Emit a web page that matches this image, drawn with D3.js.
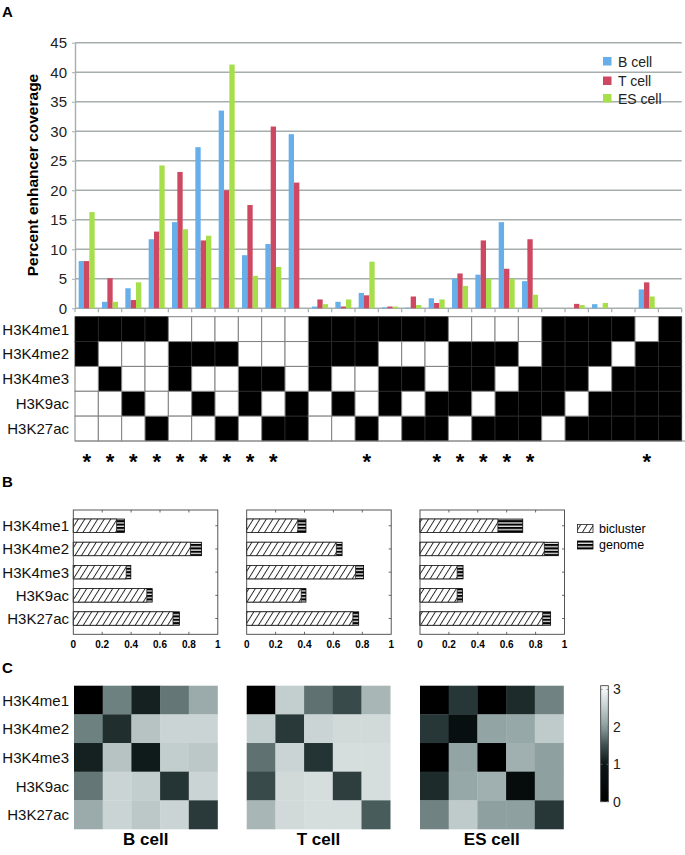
<!DOCTYPE html>
<html>
<head>
<meta charset="utf-8">
<script src="https://cdn.jsdelivr.net/npm/d3@7"></script>
<style>
  body { margin: 0; background: #fff; }
  svg { display: block; font-family: "Liberation Sans", Arial, Helvetica, sans-serif; }
</style>
</head>
<body>
<div id="fig"></div>
<script>
// ---------- data ----------
const marks = ["H3K4me1", "H3K4me2", "H3K4me3", "H3K9ac", "H3K27ac"];
const cellTypes = ["B cell", "T cell", "ES cell"];

// mark combinations (1 = mark present), one per column of panel A
const combos = ["11000","10100","10010","10001","01100","01010","01001","00110","00101","00011",
                "11100","11010","11001","10110","10101","10011","01110","01101","01011","00111",
                "11110","11101","11011","10111","01111","11111"];
const starred = [1,1,1,1,1,1,1,1,1,0, 0,0,1,0,0,1,1,1,1,1, 0,0,0,0,1,0];

const coverageB  = [8.0,1.1,3.4,11.7,14.6,27.3,33.5,9.0,10.9,29.5, 0.3,1.1,2.6,0.15,0.1,1.7,5.0,5.7,14.6,4.6, 0,0,0.7,0,3.2,0];
const coverageT  = [8.0,5.1,1.4,13.0,23.1,11.5,20.0,17.5,30.8,21.3, 1.5,0.3,2.2,0.3,2.0,0.9,5.9,11.5,6.7,11.7, 0,0.75,0,0,4.4,0];
const coverageES = [16.3,1.1,4.4,24.2,13.4,12.3,41.3,5.5,7.0,0, 0.7,1.5,7.9,0.3,0.55,1.5,3.8,5.0,5.0,2.3, 0,0.55,0.9,0,2.0,0];
const yTicks = [0,5,10,15,20,25,30,35,40,45];

// panel B: fraction covered, bicluster vs genome
const biclusterB  = [0.30, 0.81, 0.366, 0.509, 0.69];
const genomeB     = [0.354, 0.887, 0.398, 0.546, 0.734];
const biclusterT  = [0.354, 0.62, 0.754, 0.377, 0.735];
const genomeT     = [0.41, 0.66, 0.809, 0.41, 0.775];
const biclusterES = [0.539, 0.86, 0.257, 0.257, 0.849];
const genomeES    = [0.711, 0.957, 0.298, 0.294, 0.904];
const bTicks = [0, 0.2, 0.4, 0.6, 0.8, 1];

// panel C: pairwise matrices
const heatB = [
  [0, 1.82, 1.1, 1.75, 2.15],
  [1.82, 1.21, 2.40, 2.59, 2.59],
  [1.1, 2.40, 1.04, 2.5, 2.45],
  [1.75, 2.59, 2.5, 1.26, 2.59],
  [2.15, 2.59, 2.45, 2.59, 1.31]];
const heatT = [
  [0, 2.51, 1.72, 1.45, 2.27],
  [2.51, 1.30, 2.59, 2.65, 2.65],
  [1.72, 2.59, 1.25, 2.69, 2.69],
  [1.45, 2.65, 2.69, 1.35, 2.69],
  [2.27, 2.65, 2.69, 2.69, 1.58]];
const heatES = [
  [0, 1.28, 0, 1.19, 1.83],
  [1.28, 0.7, 2.08, 2.12, 2.47],
  [0, 2.08, 0, 2.2, 2.04],
  [1.19, 2.12, 2.2, 0.5, 2.04],
  [1.83, 2.47, 2.04, 2.04, 1.28]];
const cbTicks = [0, 1, 2, 3];

// ---------- svg ----------
const svg = d3.select("#fig").append("svg")
  .attr("width", 685).attr("height", 855);
const defs = svg.append("defs");

function panelLabel(t, x, y) {
  svg.append("text").attr("x", x).attr("y", y)
    .attr("font-size", 15).attr("font-weight", "bold").text(t);
}

// ===== panel A =====
panelLabel("A", 2, 17);

const x = d3.scaleBand().domain(combos).range([75, 681.7]);
const x1 = d3.scaleBand().domain(cellTypes).range([0, x.bandwidth()]).paddingOuter(0.69);
const y = d3.scaleLinear().domain([0, 45]).range([308.3, 42.7]);
const colors = { "B cell": "#66afea", "T cell": "#cf4862", "ES cell": "#a7df4a" };
const series = { "B cell": coverageB, "T cell": coverageT, "ES cell": coverageES };

const gA = svg.append("g");

// grid lines
gA.selectAll(".grid").data(yTicks.filter(d => d > 0)).enter().append("line")
  .attr("x1", 75).attr("x2", 681.7)
  .attr("y1", d => y(d)).attr("y2", d => y(d))
  .attr("stroke", "#a6aeae").attr("stroke-width", 1.4);

// y axis
const yAxis = gA.append("g").attr("transform", "translate(75,0)")
  .call(d3.axisLeft(y).tickValues(yTicks).tickSizeInner(3).tickSizeOuter(0).tickPadding(5));
yAxis.select(".domain").attr("stroke", "#a6aeae").attr("stroke-width", 1.4);
yAxis.selectAll(".tick line").attr("stroke", "#a6aeae");
yAxis.selectAll("text").attr("font-size", 15).attr("fill", "#222")
  .attr("font-family", "Liberation Sans, Arial, sans-serif");

// x baseline + ticks at category edges
gA.append("line").attr("x1", 75).attr("x2", 681.7)
  .attr("y1", y(0)).attr("y2", y(0))
  .attr("stroke", "#a6aeae").attr("stroke-width", 1.4);
const edges = combos.map(c => x(c)).concat([x.range()[1]]);
gA.selectAll(".xt").data(edges).enter().append("line")
  .attr("x1", d => d).attr("x2", d => d)
  .attr("y1", y(0)).attr("y2", y(0) + 4)
  .attr("stroke", "#a6aeae").attr("stroke-width", 1.2);

// bars
cellTypes.forEach(ct => {
  gA.selectAll(".bar-" + ct.replace(" ", ""))
    .data(series[ct].map((v, i) => ({ c: combos[i], v: v })))
    .enter().append("rect")
    .attr("x", d => x(d.c) + x1(ct))
    .attr("y", d => y(d.v))
    .attr("width", x1.bandwidth())
    .attr("height", d => y(0) - y(d.v))
    .attr("fill", colors[ct]);
});

// y title
gA.append("text")
  .attr("transform", "translate(38,175) rotate(-90)")
  .attr("text-anchor", "middle")
  .attr("font-size", 15.5).attr("font-weight", "bold")
  .text("Percent enhancer coverage");

// legend
const leg = gA.append("g");
cellTypes.forEach((ct, i) => {
  const ly = [57, 76.5, 94][i];
  leg.append("rect").attr("x", 603).attr("y", ly).attr("width", 8.5).attr("height", 8.5)
    .attr("fill", colors[ct]);
  leg.append("text").attr("x", 618).attr("y", ly + 9.5)
    .attr("font-size", 14).attr("fill", "#222").text(ct);
});

// presence matrix
const my = d3.scaleBand().domain(marks).range([316.7, 441]);
const cells = [];
combos.forEach(c => c.split("").forEach((b, j) => cells.push({ c: c, m: marks[j], on: b === "1" })));
const gM = svg.append("g");
gM.selectAll(".cellOn").data(cells.filter(d => d.on)).enter().append("rect")
  .attr("x", d => x(d.c)).attr("y", d => my(d.m))
  .attr("width", x.bandwidth()).attr("height", my.bandwidth())
  .attr("fill", "#000").attr("stroke", "#2a2a2a").attr("stroke-width", 0.8);
gM.selectAll(".cellOff").data(cells.filter(d => !d.on)).enter().append("rect")
  .attr("x", d => x(d.c)).attr("y", d => my(d.m))
  .attr("width", x.bandwidth()).attr("height", my.bandwidth())
  .attr("fill", "#fff").attr("stroke", "#808080").attr("stroke-width", 1);
gM.append("line").attr("x1", 75).attr("x2", 685).attr("y1", 441).attr("y2", 441)
  .attr("stroke", "#909090").attr("stroke-width", 1);
gM.selectAll(".mlab").data(marks).enter().append("text")
  .attr("x", 69).attr("y", d => my(d) + my.bandwidth() / 2 + 5.5)
  .attr("text-anchor", "end").attr("font-size", 15).attr("fill", "#111")
  .text(d => d);

// asterisks
gM.selectAll(".star").data(combos.filter((c, i) => starred[i])).enter().append("text")
  .attr("x", d => x(d) + x.bandwidth() / 2).attr("y", 469)
  .attr("text-anchor", "middle").attr("font-size", 22).attr("font-weight", "bold")
  .text("*");

// ===== panel B =====
panelLabel("B", 2, 487);

const hatch = defs.append("pattern").attr("id", "hatch")
  .attr("patternUnits", "userSpaceOnUse").attr("width", 5.5).attr("height", 10)
  .attr("patternTransform", "rotate(32)");
hatch.append("rect").attr("width", 5.5).attr("height", 10).attr("fill", "#fff");
hatch.append("line").attr("x1", 0.5).attr("x2", 0.5).attr("y1", 0).attr("y2", 10)
  .attr("stroke", "#111").attr("stroke-width", 0.9);

const stripes = defs.append("pattern").attr("id", "stripes")
  .attr("patternUnits", "userSpaceOnUse").attr("width", 4).attr("height", 3.4);
stripes.append("rect").attr("width", 4).attr("height", 3.4).attr("fill", "#000");
stripes.append("rect").attr("y", 2.1).attr("width", 4).attr("height", 1.2).attr("fill", "#fff");

function drawBPanel(x0, bic, gen, withLabels) {
  const g = svg.append("g");
  const xb = d3.scaleLinear().domain([0, 1]).range([x0, x0 + 144.5]);
  const yb = d3.scaleBand().domain(marks).range([510, 634.3]).paddingInner(0.42).paddingOuter(0.39);

  g.selectAll(".gen").data(gen).enter().append("rect")
    .attr("x", xb(0)).attr("y", (d, i) => yb(marks[i]))
    .attr("width", d => xb(d) - xb(0)).attr("height", yb.bandwidth())
    .attr("fill", "url(#stripes)").attr("stroke", "#000").attr("stroke-width", 0.8);
  g.selectAll(".bic").data(bic).enter().append("rect")
    .attr("x", xb(0)).attr("y", (d, i) => yb(marks[i]))
    .attr("width", d => xb(d) - xb(0)).attr("height", yb.bandwidth())
    .attr("fill", "url(#hatch)").attr("stroke", "#222").attr("stroke-width", 0.8);

  // frame and inward ticks
  g.append("rect").attr("x", xb(0)).attr("y", 510)
    .attr("width", xb(1) - xb(0)).attr("height", 124.3)
    .attr("fill", "none").attr("stroke", "#444").attr("stroke-width", 0.9);
  bTicks.slice(1, -1).forEach(t => {
    g.append("line").attr("x1", xb(t)).attr("x2", xb(t)).attr("y1", 510).attr("y2", 512.5)
      .attr("stroke", "#444").attr("stroke-width", 0.8);
    g.append("line").attr("x1", xb(t)).attr("x2", xb(t)).attr("y1", 634.3).attr("y2", 631.8)
      .attr("stroke", "#444").attr("stroke-width", 0.8);
  });
  marks.forEach(m => {
    const cy = yb(m) + yb.bandwidth() / 2;
    g.append("line").attr("x1", xb(1)).attr("x2", xb(1) - 2.5).attr("y1", cy).attr("y2", cy)
      .attr("stroke", "#444").attr("stroke-width", 0.8);
  });

  g.selectAll(".bt").data(bTicks).enter().append("text")
    .attr("x", d => xb(d)).attr("y", 648)
    .attr("text-anchor", "middle").attr("font-size", 10).attr("font-weight", "bold")
    .text(d => String(d));

  if (withLabels) {
    g.selectAll(".bl").data(marks).enter().append("text")
      .attr("x", 69).attr("y", d => yb(d) + yb.bandwidth() / 2 + 5.5)
      .attr("text-anchor", "end").attr("font-size", 15).attr("fill", "#111")
      .text(d => d);
  }
}
drawBPanel(73.3, biclusterB, genomeB, true);
drawBPanel(246.7, biclusterT, genomeT, false);
drawBPanel(420, biclusterES, genomeES, false);

// legend B
svg.append("rect").attr("x", 577.5).attr("y", 524.5).attr("width", 15.5).attr("height", 8)
  .attr("fill", "url(#hatch)").attr("stroke", "#222").attr("stroke-width", 0.8);
svg.append("rect").attr("x", 577.5).attr("y", 541).attr("width", 15.5).attr("height", 8)
  .attr("fill", "url(#stripes)").attr("stroke", "#000").attr("stroke-width", 0.8);
svg.append("text").attr("x", 599).attr("y", 533).attr("font-size", 12.5).text("bicluster");
svg.append("text").attr("x", 599).attr("y", 549).attr("font-size", 12.5).text("genome");

// ===== panel C =====
panelLabel("C", 2, 673);

const heatColor = d3.scaleLinear()
  .domain([0, 1, 1.5, 2, 2.5, 3])
  .range(["#000000", "#0b1515", "#3d5050", "#8a9c9c", "#c2cdcd", "#f3f6f6"])
  .clamp(true);

function drawHeat(x0, mat, title, withLabels) {
  const g = svg.append("g");
  const hx = d3.scaleBand().domain(marks).range([x0, x0 + 143.5]);
  const hy = d3.scaleBand().domain(marks).range([685.7, 829]);
  const flat = [];
  mat.forEach((row, i) => row.forEach((v, j) => flat.push({ r: marks[i], c: marks[j], v: v })));
  g.selectAll("rect").data(flat).enter().append("rect")
    .attr("x", d => hx(d.c)).attr("y", d => hy(d.r))
    .attr("width", hx.bandwidth() + 0.3).attr("height", hy.bandwidth() + 0.3)
    .attr("fill", d => heatColor(d.v));
  g.append("text").attr("x", x0 + 71.75).attr("y", 845)
    .attr("text-anchor", "middle").attr("font-size", 17).attr("font-weight", "bold")
    .text(title);
  if (withLabels) {
    g.selectAll(".hl").data(marks).enter().append("text")
      .attr("x", 69).attr("y", d => hy(d) + hy.bandwidth() / 2 + 5.5)
      .attr("text-anchor", "end").attr("font-size", 15).attr("fill", "#111")
      .text(d => d);
  }
}
drawHeat(74, heatB, "B cell", true);
drawHeat(246.7, heatT, "T cell", false);
drawHeat(420, heatES, "ES cell", false);

// colorbar
const cb = d3.scaleLinear().domain([0, 3.1]).range([801.7, 685.7]);
const grad = defs.append("linearGradient").attr("id", "cbgrad")
  .attr("x1", 0).attr("x2", 0).attr("y1", 1).attr("y2", 0);
d3.range(0, 3.11, 0.1).forEach(v => {
  grad.append("stop").attr("offset", v / 3.1).attr("stop-color", heatColor(v));
});
svg.append("rect").attr("x", 600.7).attr("y", 685.7).attr("width", 7.6).attr("height", 116)
  .attr("fill", "url(#cbgrad)").attr("stroke", "#333").attr("stroke-width", 0.8);
cbTicks.forEach(t => {
  svg.append("line").attr("x1", 600.7).attr("x2", 602.5).attr("y1", cb(t)).attr("y2", cb(t))
    .attr("stroke", "#777").attr("stroke-width", 0.8);
  svg.append("line").attr("x1", 608.3).attr("x2", 606.5).attr("y1", cb(t)).attr("y2", cb(t))
    .attr("stroke", "#777").attr("stroke-width", 0.8);
});
svg.selectAll(".cbt").data(cbTicks).enter().append("text")
  .attr("x", 613).attr("y", d => cb(d) + 5)
  .attr("font-size", 14).attr("fill", "#222")
  .text(d => d);
</script>
</body>
</html>
